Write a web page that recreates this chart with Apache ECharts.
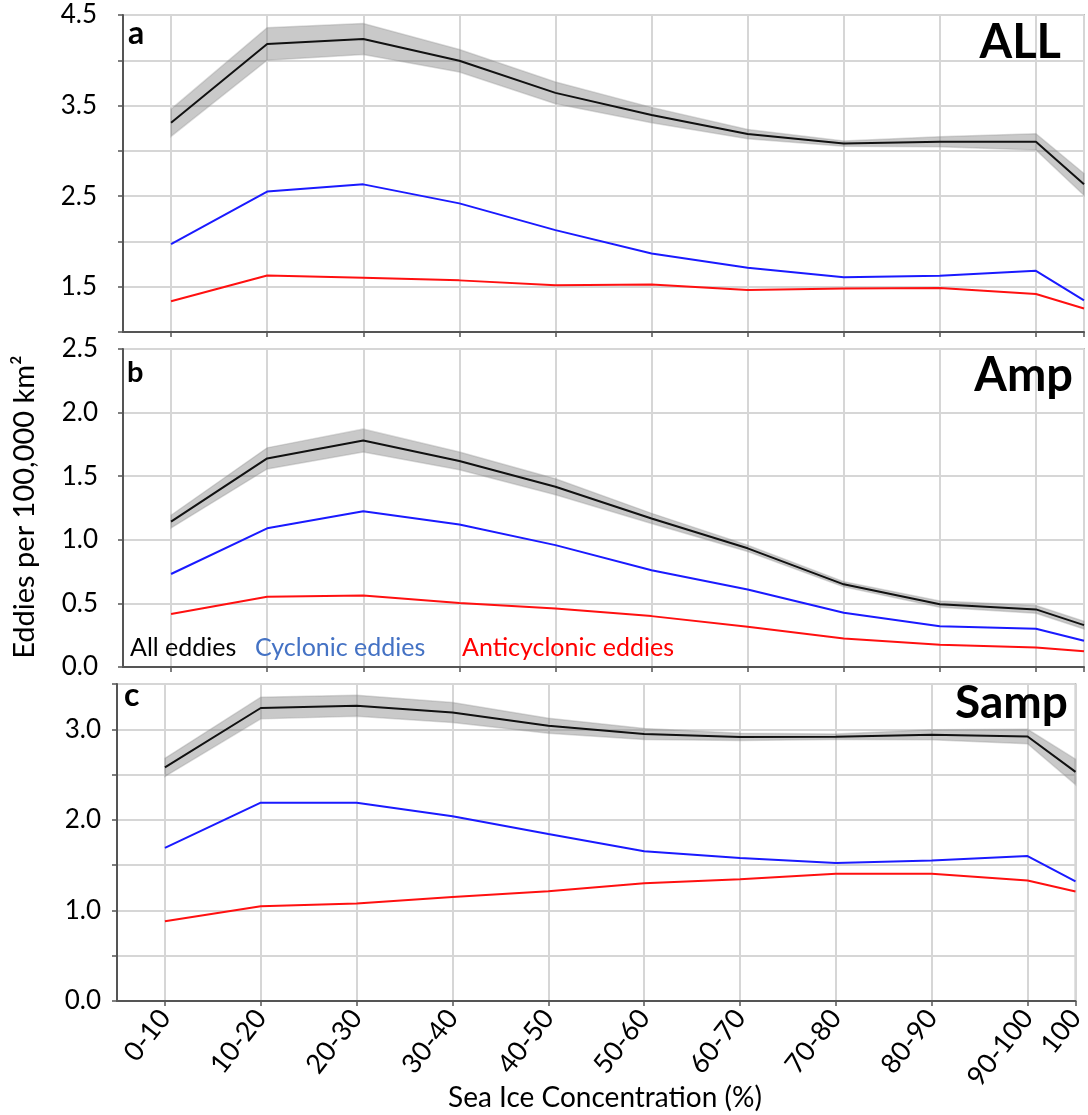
<!DOCTYPE html>
<html>
<head>
<meta charset="utf-8">
<script src="https://cdn.jsdelivr.net/npm/echarts@6/dist/echarts.min.js"></script>
<style>
  html, body { margin: 0; padding: 0; background: #fff; }
  #main { width: 1088px; height: 1115px; }
</style>
</head>
<body>
<div id="main"></div>
<script>
// x positions (middle of each sea ice bin, %) and their tick labels
var xPos = [5, 15, 25, 35, 45, 55, 65, 75, 85, 95, 100];
var xLabels = ['0-10', '10-20', '20-30', '30-40', '40-50', '50-60', '60-70', '70-80', '80-90', '90-100', '100'];

// panel a - ALL
var allA = [3.31, 4.18, 4.235, 3.995, 3.64, 3.395, 3.185, 3.08, 3.10, 3.10, 2.63];
var errA = [0.15, 0.18, 0.17, 0.125, 0.12, 0.085, 0.05, 0.028, 0.055, 0.09, 0.12];
var cycA = [1.97, 2.55, 2.63, 2.42, 2.125, 1.867, 1.71, 1.605, 1.62, 1.675, 1.35];
var antiA = [1.34, 1.624, 1.60, 1.57, 1.517, 1.524, 1.465, 1.48, 1.487, 1.42, 1.26];

// panel b - Amp
var allB = [1.143, 1.64, 1.78, 1.62, 1.417, 1.168, 0.933, 0.65, 0.494, 0.453, 0.329];
var errB = [0.05, 0.083, 0.09, 0.07, 0.063, 0.04, 0.025, 0.02, 0.025, 0.03, 0.03];
var cycB = [0.731, 1.09, 1.224, 1.121, 0.958, 0.761, 0.61, 0.426, 0.321, 0.30, 0.206];
var antiB = [0.416, 0.552, 0.563, 0.504, 0.46, 0.40, 0.316, 0.224, 0.174, 0.154, 0.124];

// panel c - Samp
var allC = [2.58, 3.235, 3.26, 3.186, 3.04, 2.948, 2.915, 2.918, 2.94, 2.92, 2.53];
var errC = [0.10, 0.12, 0.115, 0.11, 0.083, 0.06, 0.04, 0.03, 0.055, 0.08, 0.14];
var cycC = [1.69, 2.19, 2.19, 2.04, 1.845, 1.654, 1.58, 1.525, 1.55, 1.60, 1.32];
var antiC = [0.88, 1.047, 1.077, 1.147, 1.213, 1.30, 1.345, 1.405, 1.405, 1.33, 1.21];

var FONT = 'Lato, "Open Sans", sans-serif';
var gridColor = '#d6d6d6';
var axisColor = '#555';

var myChart = echarts.init(document.getElementById('main'));

function pairs(arr) {
  return xPos.map(function (x, i) { return [x, arr[i]]; });
}

function xAxisFor(idx, showLabel) {
  return {
    type: 'value', gridIndex: idx, min: 0, max: 100,
    axisLine: { onZero: false, lineStyle: { color: axisColor, width: 2 } },
    axisTick: { show: true, customValues: xPos, length: 5, lineStyle: { color: axisColor, width: 1.5 } },
    splitLine: { show: true, lineStyle: { color: gridColor, width: 2 } },
    axisLabel: {
      show: showLabel, customValues: xPos, rotate: 52, margin: 12,
      fontSize: 27, color: '#000', fontFamily: FONT,
      formatter: function (v) { return xLabels[xPos.indexOf(v)]; }
    }
  };
}

function yAxisFor(idx, min, max, margin, labelFilter) {
  return {
    type: 'value', gridIndex: idx, min: min, max: max, interval: 0.5,
    axisLine: { show: true, onZero: false, lineStyle: { color: axisColor, width: 2 } },
    axisTick: { show: true, length: 5, lineStyle: { color: axisColor, width: 1.5 } },
    splitLine: { show: true, lineStyle: { color: gridColor, width: 2 } },
    axisLabel: {
      margin: margin, fontSize: 26, color: '#000', fontFamily: FONT,
      showMinLabel: true, showMaxLabel: true,
      formatter: function (v) { return labelFilter(v) ? v.toFixed(1) : ''; }
    }
  };
}

// grey +/- band around the all-eddies line, drawn as one polygon through the axes
function bandSeries(idx, mean, err) {
  return {
    type: 'custom', xAxisIndex: idx, yAxisIndex: idx, silent: true, z: 1,
    encode: { x: 0, y: [1, 2] },
    data: xPos.map(function (x, i) { return [x, mean[i] - err[i], mean[i] + err[i]]; }),
    renderItem: function (params, api) {
      if (params.dataIndex !== 0) return null;
      var top = [], bottom = [];
      for (var i = 0; i < xPos.length; i++) {
        top.push(api.coord([xPos[i], mean[i] + err[i]]));
        bottom.unshift(api.coord([xPos[i], mean[i] - err[i]]));
      }
      return {
        type: 'polygon',
        shape: { points: top.concat(bottom) },
        style: { fill: 'rgba(120,120,120,0.4)', stroke: 'rgba(150,150,150,0.35)', lineWidth: 1.5 }
      };
    }
  };
}

function panelSeries(idx, mean, err, cyc, anti) {
  var common = { type: 'line', xAxisIndex: idx, yAxisIndex: idx, symbol: 'none', silent: true, z: 3 };
  return [
    bandSeries(idx, mean, err),
    Object.assign({}, common, { data: pairs(anti), lineStyle: { color: '#ff1010', width: 2 } }),
    Object.assign({}, common, { data: pairs(cyc), lineStyle: { color: '#1a1aff', width: 2 } }),
    Object.assign({}, common, { data: pairs(mean), lineStyle: { color: '#111', width: 2 } })
  ];
}

function txt(x, y, text, size, opts) {
  opts = opts || {};
  return {
    type: 'text', x: x, y: y, rotation: opts.rotation || 0, z: 100,
    style: {
      text: text, fontSize: size, fontFamily: FONT, fontWeight: opts.bold ? 'bold' : 'normal',
      fill: opts.color || '#000', align: opts.align || 'left', verticalAlign: 'middle'
    }
  };
}

var gridBase = { show: true, borderColor: '#8a8a8a', borderWidth: 1.5, backgroundColor: 'transparent' };

var option = {
  animation: false,
  grid: [
    Object.assign({ left: 123, top: 15, width: 961, height: 317 }, gridBase),
    Object.assign({ left: 123, top: 349, width: 961, height: 318 }, gridBase),
    Object.assign({ left: 117, top: 684, width: 962, height: 317 }, gridBase)
  ],
  xAxis: [xAxisFor(0, false), xAxisFor(1, false), xAxisFor(2, true)],
  yAxis: [
    yAxisFor(0, 1, 4.5, 26, function (v) { return Math.round(v * 2) % 2 === 1; }),
    yAxisFor(1, 0, 2.5, 25, function () { return true; }),
    yAxisFor(2, 0, 3.5, 16, function (v) { return Math.round(v * 2) % 2 === 0; })
  ],
  series: [].concat(
    panelSeries(0, allA, errA, cycA, antiA),
    panelSeries(1, allB, errB, cycB, antiB),
    panelSeries(2, allC, errC, cycC, antiC)
  ),
  graphic: [
    txt(128, 34, 'a', 32, { bold: true }),
    txt(127, 373, 'b', 29, { bold: true }),
    txt(124, 696, 'c', 32, { bold: true }),
    txt(1061, 43, 'ALL', 47, { bold: true, align: 'right' }),
    txt(1073, 376, 'Amp', 47, { bold: true, align: 'right' }),
    txt(1068, 703, 'Samp', 46, { bold: true, align: 'right' }),
    txt(130, 648, 'All eddies', 25),
    txt(255, 648, 'Cyclonic eddies', 25, { color: '#4472c4' }),
    txt(462, 648, 'Anticyclonic eddies', 25, { color: '#ff0000' }),
    txt(25, 507, 'Eddies per 100,000 km²', 29, { rotation: Math.PI / 2, align: 'center' }),
    txt(605, 1098, 'Sea Ice Concentration (%)', 28, { align: 'center' })
  ]
};

myChart.setOption(option);
</script>
</body>
</html>
